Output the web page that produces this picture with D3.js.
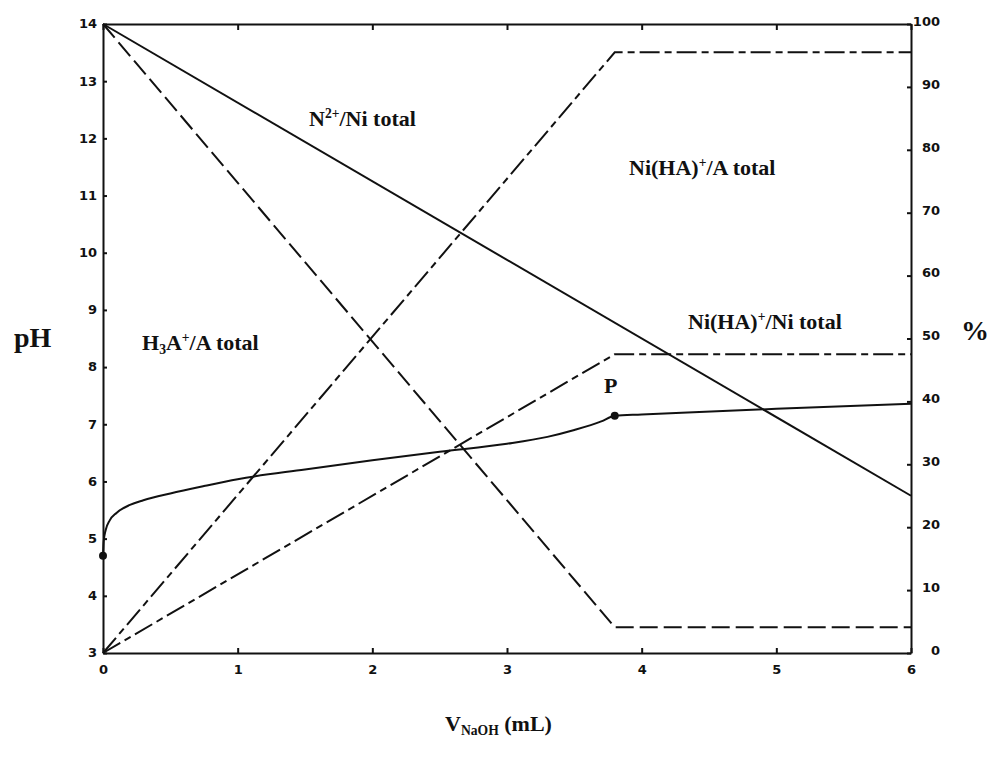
<!DOCTYPE html>
<html>
<head>
<meta charset="utf-8">
<script src="https://cdn.jsdelivr.net/npm/d3@7"></script>
<style>
  body { margin: 0; background: #fff; }
  .tick text { font-family: "DejaVu Sans", sans-serif; font-weight: bold; font-size: 13px; fill: #111; }
  .lbl { font-family: "Liberation Serif", "Times New Roman", serif; font-weight: bold; fill: #111; }
</style>
</head>
<body>
<script>
// titration volume (mL) and pH curve
let phVol = [0, 0.005, 0.02, 0.05, 0.1, 0.2, 0.3, 0.5, 0.75, 1, 1.5, 2, 2.5, 3, 3.3, 3.5, 3.7, 3.8, 4, 5, 6];
let phVal = [4.7, 4.95, 5.15, 5.32, 5.45, 5.59, 5.67, 5.79, 5.92, 6.04, 6.21, 6.37, 6.52, 6.66, 6.78, 6.9, 7.05, 7.15, 7.17, 7.27, 7.36];

// species fractions (%), right axis
let ni2Vol = [0, 6];
let ni2Pct = [100, 25];
let h3aVol = [0, 3.8, 6];
let h3aPct = [100, 4.1, 4.1];
let niHAaVol = [0, 3.8, 6];
let niHAaPct = [0, 95.5, 95.5];
let niHAniVol = [0, 3.8, 6];
let niHAniPct = [0, 47.5, 47.5];

// marked points on the pH curve
let dotVol = [0, 3.8];
let dotPh = [4.7, 7.15];

let xTicks = [0, 1, 2, 3, 4, 5, 6];
let phTicks = [3, 4, 5, 6, 7, 8, 9, 10, 11, 12, 13, 14];
let pctTicks = [0, 10, 20, 30, 40, 50, 60, 70, 80, 90, 100];

let width = 988;
let height = 762;
let plotLeft = 103, plotRight = 911, plotTop = 24, plotBottom = 653;

let svg = d3.select("body").append("svg")
            .attr("width", width)
            .attr("height", height);

let x = d3.scaleLinear().domain([0, 6]).range([plotLeft, plotRight]);
let yPh = d3.scaleLinear().domain([3, 14]).range([plotBottom, plotTop]);
let yPct = d3.scaleLinear().domain([0, 100]).range([plotBottom, plotTop]);

// axes, ticks pointing inward
let gx = svg.append("g").attr("transform", `translate(0,${plotBottom})`)
            .call(d3.axisBottom(x).tickValues(xTicks).tickFormat(d3.format("d"))
                    .tickSizeInner(-5).tickSizeOuter(0).tickPadding(9));
let gxTop = svg.append("g").attr("transform", `translate(0,${plotTop})`)
            .call(d3.axisTop(x).tickValues(xTicks).tickSizeInner(-6).tickSizeOuter(0).tickFormat(""));
let gl = svg.append("g").attr("transform", `translate(${plotLeft},0)`)
            .call(d3.axisLeft(yPh).tickValues(phTicks).tickSizeInner(-4).tickSizeOuter(0).tickPadding(6));
let gr = svg.append("g").attr("transform", `translate(${plotRight},0)`)
            .call(d3.axisRight(yPct).tickValues(pctTicks).tickSizeInner(-4).tickSizeOuter(0).tickPadding(12));

[gx, gxTop, gl, gr].forEach(g => {
  g.select(".domain").attr("stroke", "#111").attr("stroke-width", 2);
  g.selectAll(".tick line").attr("stroke", "#111").attr("stroke-width", 2);
});
gx.selectAll(".tick text").attr("dy", "0.9em");
gl.selectAll(".tick text").attr("dy", "0.3em");
gr.selectAll(".tick text").attr("text-anchor", "end").attr("dx", 17).attr("dy", "0.1em");

function zip(a, b) { return a.map((v, i) => [v, b[i]]); }

let pctLine = d3.line().x(d => x(d[0])).y(d => yPct(d[1]));
let phLine = d3.line().x(d => x(d[0])).y(d => yPh(d[1])).curve(d3.curveMonotoneX);

let series = [
  { data: zip(ni2Vol, ni2Pct), dash: null },
  { data: zip(h3aVol, h3aPct), dash: "18,6" },
  { data: zip(niHAaVol, niHAaPct), dash: "20,5,7,5" },
  { data: zip(niHAniVol, niHAniPct), dash: "20,5,7,5" }
];

svg.selectAll("path.pct").data(series).enter().append("path")
   .attr("class", "pct")
   .attr("d", d => pctLine(d.data))
   .attr("fill", "none")
   .attr("stroke", "#111")
   .attr("stroke-width", 2)
   .attr("stroke-dasharray", d => d.dash);

svg.append("path")
   .attr("d", phLine(zip(phVol, phVal)))
   .attr("fill", "none")
   .attr("stroke", "#111")
   .attr("stroke-width", 2);

svg.selectAll("circle.dot").data(zip(dotVol, dotPh)).enter().append("circle")
   .attr("class", "dot")
   .attr("cx", d => x(d[0]))
   .attr("cy", d => yPh(d[1]))
   .attr("r", 4)
   .attr("fill", "#111");

// labels: each part is [text, kind]
function label(px, py, size, parts) {
  let t = svg.append("text").attr("class", "lbl").attr("x", px).attr("y", py).attr("font-size", size);
  parts.forEach(p => {
    let s = t.append("tspan").text(p[0]);
    if (p[1] === "sup") s.attr("font-size", size * 0.62).attr("baseline-shift", "55%");
    if (p[1] === "sub") s.attr("font-size", size * 0.62).attr("baseline-shift", "-25%");
  });
}

label(309, 126, 22, [["N"], ["2+", "sup"], ["/Ni total"]]);
label(629, 175, 22, [["Ni(HA)"], ["+", "sup"], ["/A total"]]);
label(688, 329, 22, [["Ni(HA)"], ["+", "sup"], ["/Ni total"]]);
label(142, 350, 22, [["H"], ["3", "sub"], ["A"], ["+", "sup"], ["/A total"]]);
label(604, 393, 22, [["P"]]);
label(14, 347, 28, [["pH"]]);
label(961, 340, 28, [["%"]]);
label(445, 731, 22, [["V"], ["NaOH", "sub"], [" (mL)"]]);
</script>
</body>
</html>
